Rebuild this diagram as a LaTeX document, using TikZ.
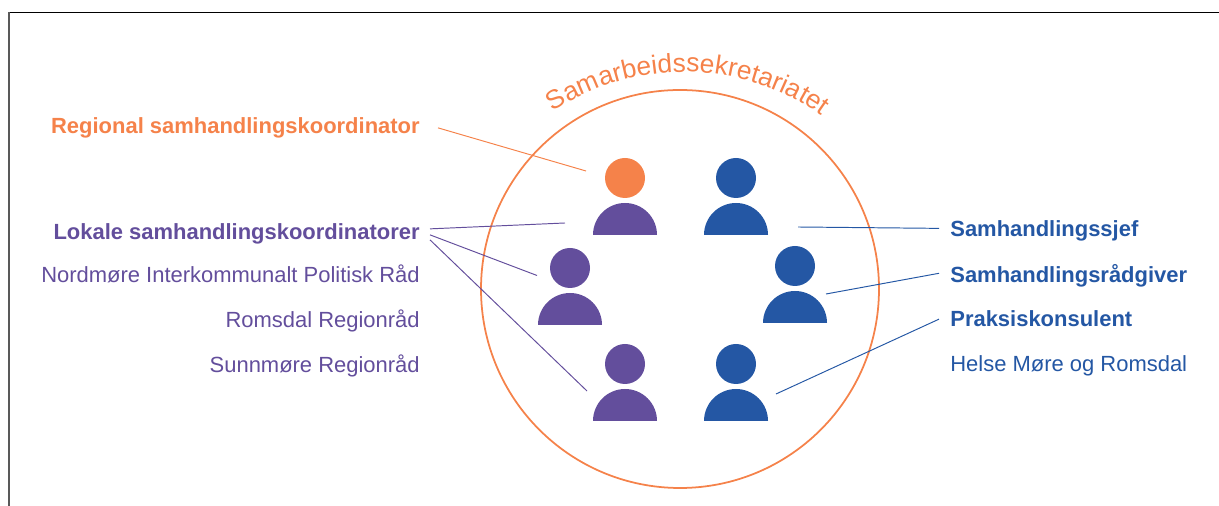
\documentclass[tikz,border=0pt]{standalone}
\usepackage{fontspec}
\setmainfont{Liberation Sans}
\usetikzlibrary{decorations.text}
\definecolor{orangec}{HTML}{F5824A}
\definecolor{purplec}{HTML}{634E9C}
\definecolor{bluec}{HTML}{2457A4}
\def\nudge{32}
\tikzset{lead/.style={inner sep=0pt, font=\fontsize{12.5}{15}\selectfont\bfseries}}
\tikzset{sub/.style={inner sep=0pt, font=\fontsize{12.5}{15}\selectfont}}
\tikzset{link/.style={line width=0.55pt}}

\begin{document}
\begin{tikzpicture}[x=0.02cm, y=0.02cm]
        \useasboundingbox (0,0) rectangle (1219,506);
        % Frame
        \draw[black, line width=0.6pt] (9,493.5) -- (1219,493.5);
        \draw[black!65, line width=0.6pt] (9,493.5) -- (9,0);
        % Circle and title
        \draw[orangec, line width=1pt] (680,217) circle (199);
        \path[decorate, decoration={text along path, text align=center,
          text={|\fontsize{15}{18}\selectfont\color{orangec}|Samarbeidssekretariatet}}]
          (684,196) ++(127:238) arc (127:51:238);
        % People
        \foreach \xpos/\ypos/\headcol/\bodycol in {
          625/328/orangec/purplec,
          736/328/bluec/bluec,
          570/238/purplec/purplec,
          795/240/bluec/bluec,
          625/142/purplec/purplec,
          736/142/bluec/bluec%
        } {
          \fill[\headcol] (\xpos,\ypos) circle (20);
          \fill[\bodycol] (\xpos-\nudge,\ypos-57) arc (180:0:\nudge) -- cycle;
        }
        % Left labels
        \node[lead, orangec, anchor=base east] (regional) at (420,372.5) {Regional samhandlingskoordinator};
        \node[lead, purplec, anchor=base east] (lokale) at (420,266.5) {Lokale samhandlingskoordinatorer};
        \node[sub, purplec, anchor=base east] (nordmore) at (420,223.5) {Nordmøre Interkommunalt Politisk Råd};
        \node[sub, purplec, anchor=base east] (romsdal) at (420,178.5) {Romsdal Regionråd};
        \node[sub, purplec, anchor=base east] (sunnmore) at (420,133.5) {Sunnmøre Regionråd};
        % Right labels
        \node[lead, bluec, anchor=base west] (sjef) at (950,269) {Samhandlingssjef};
        \node[lead, bluec, anchor=base west] (radgiver) at (950,223) {Samhandlingsrådgiver};
        \node[lead, bluec, anchor=base west] (praksis) at (950,179) {Praksiskonsulent};
        \node[sub, bluec, anchor=base west] (helse) at (950,134) {Helse Møre og Romsdal};
        % Free ends near the people
        \coordinate (endregional) at (586,335);
        \coordinate (endlokalea) at (565,283);
        \coordinate (endlokaleb) at (537,230.5);
        \coordinate (endlokalec) at (587,115);
        \coordinate (endsjef) at (798,279);
        \coordinate (endradgiver) at (826,212);
        \coordinate (endpraksis) at (776,112);
        % Connectors
        \draw[link, orangec] ([shift={(18,0)}]regional.east) -- (endregional);
        \foreach \yoff/\target in {5/endlokalea, -1/endlokaleb, -6/endlokalec} {
          \draw[link, purplec] ([shift={(10,\yoff)}]lokale.east) -- (\target);
        }
        \draw[link, bluec] ([shift={(-11,3)}]sjef.west) -- (endsjef);
        \draw[link, bluec] ([shift={(-11,3)}]radgiver.west) -- (endradgiver);
        \draw[link, bluec] ([shift={(-11,0)}]praksis.west) -- (endpraksis);
\end{tikzpicture}
\end{document}
